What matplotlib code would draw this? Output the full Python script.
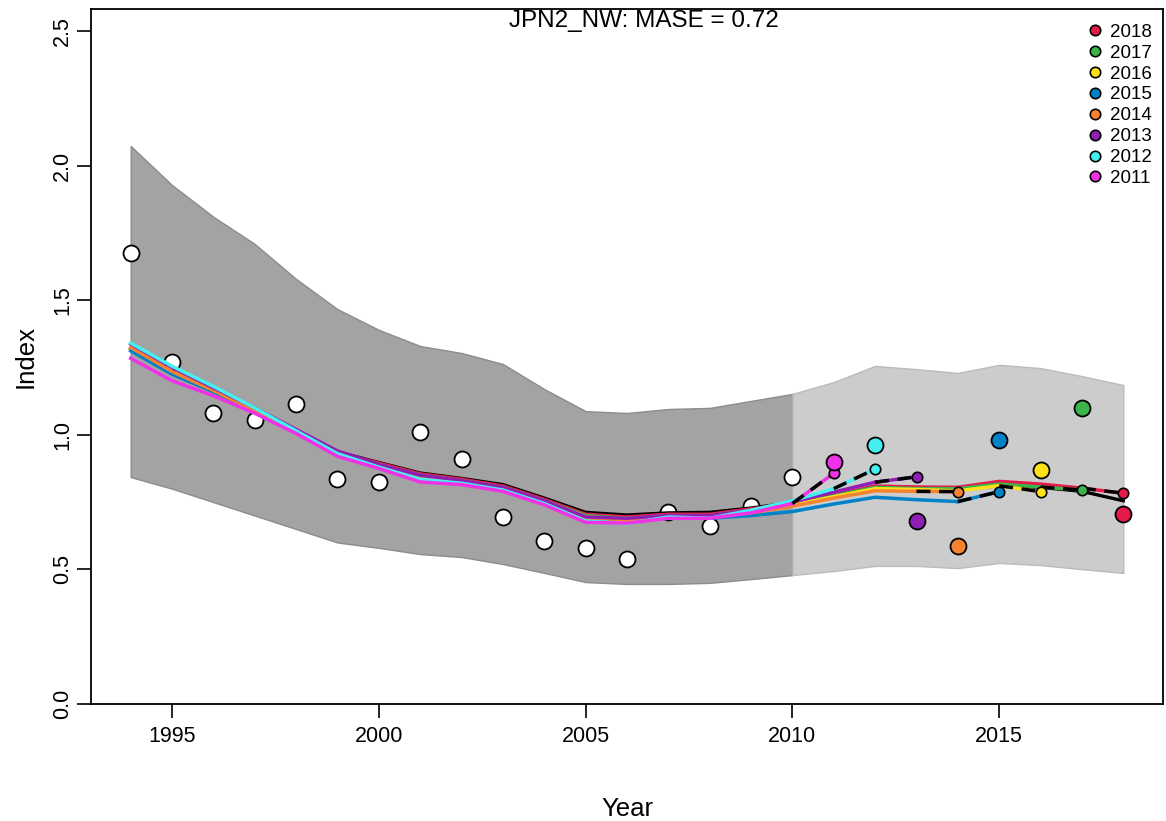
import numpy as np
import matplotlib.pyplot as plt

plt.rcParams['font.family'] = ['Liberation Sans', 'DejaVu Sans']

years = np.arange(1994, 2019)

# observed index
obs = [1.675, 1.27, 1.08, 1.055, 1.114, 0.836, 0.825, 1.01, 0.91, 0.695,
       0.605, 0.58, 0.54, 0.715, 0.661, 0.735, 0.843,
       0.899, 0.962, 0.68, 0.587, 0.98, 0.87, 1.10, 0.706]

# confidence band of reference run
upper = [2.073, 1.928, 1.81, 1.709, 1.579, 1.467, 1.39, 1.33, 1.304, 1.263,
         1.17, 1.088, 1.081, 1.096, 1.10, 1.126, 1.152, 1.196, 1.256, 1.244,
         1.23, 1.26, 1.248, 1.218, 1.185]
lower = [0.843, 0.80, 0.75, 0.70, 0.65, 0.60, 0.58, 0.557, 0.546, 0.52,
         0.487, 0.453, 0.446, 0.446, 0.45, 0.464, 0.479, 0.494, 0.513, 0.513,
         0.505, 0.524, 0.516, 0.501, 0.487]

# reference run fit
ref_fit = [1.32, 1.23, 1.16, 1.09, 1.01, 0.937, 0.897, 0.858, 0.838, 0.815,
           0.765, 0.712, 0.702, 0.71, 0.712, 0.728, 0.748, 0.775, 0.808, 0.804,
           0.80, 0.81, 0.805, 0.79, 0.755]

peel_years = [2018, 2017, 2016, 2015, 2014, 2013, 2012, 2011]
peel_cols = ['#E6194B', '#3CB44B', '#FFE119', '#0082C8',
             '#F58231', '#911EB4', '#46F0F0', '#F032E6']

# retrospective fits, 1994 up to the peel year (last value = one-step forecast)
peel_fit = {
    2018: [1.32, 1.23, 1.16, 1.09, 1.01, 0.935, 0.895, 0.855, 0.835, 0.81,
           0.76, 0.705, 0.695, 0.705, 0.705, 0.725, 0.745, 0.775, 0.81, 0.806,
           0.805, 0.827, 0.817, 0.802, 0.783],
    2017: [1.32, 1.232, 1.16, 1.09, 1.01, 0.933, 0.89, 0.85, 0.83, 0.805,
           0.755, 0.70, 0.69, 0.70, 0.70, 0.72, 0.743, 0.773, 0.805, 0.80,
           0.80, 0.817, 0.806, 0.795],
    2016: [1.318, 1.23, 1.16, 1.09, 1.01, 0.932, 0.888, 0.848, 0.828, 0.803,
           0.753, 0.695, 0.688, 0.698, 0.698, 0.715, 0.74, 0.77, 0.80, 0.797,
           0.792, 0.811, 0.789],
    2015: [1.312, 1.225, 1.16, 1.09, 1.01, 0.93, 0.885, 0.845, 0.825, 0.80,
           0.75, 0.69, 0.685, 0.69, 0.69, 0.70, 0.715, 0.743, 0.768, 0.759,
           0.752, 0.789],
    2014: [1.325, 1.235, 1.165, 1.09, 1.01, 0.93, 0.885, 0.845, 0.825, 0.80,
           0.75, 0.69, 0.685, 0.695, 0.695, 0.71, 0.735, 0.765, 0.792, 0.79,
           0.789],
    2013: [1.338, 1.25, 1.175, 1.10, 1.02, 0.94, 0.89, 0.85, 0.83, 0.805,
           0.755, 0.695, 0.69, 0.70, 0.70, 0.72, 0.75, 0.787, 0.824, 0.844],
    2012: [1.341, 1.255, 1.18, 1.10, 1.015, 0.93, 0.88, 0.835, 0.82, 0.795,
           0.745, 0.68, 0.67, 0.695, 0.69, 0.72, 0.755, 0.80, 0.873],
    2011: [1.284, 1.201, 1.145, 1.08, 1.005, 0.92, 0.875, 0.825, 0.815, 0.79,
           0.74, 0.675, 0.672, 0.69, 0.69, 0.71, 0.745, 0.857],
}

fig = plt.figure(figsize=(11.66, 8.21), dpi=100)
ax = fig.add_axes([91/1166, 1-704/821, (1163-91)/1166, (704-9)/821])

# band: fitted period dark, peeled period light
split = list(years).index(2010)
ax.fill_between(years[:split+1], lower[:split+1], upper[:split+1],
                facecolor='#A3A3A3', edgecolor='#8C8C8C', lw=1, zorder=1)
ax.fill_between(years[split:], lower[split:], upper[split:],
                facecolor='#CCCCCC', edgecolor='#BBBBBB', lw=1, zorder=1)

# observations in the fitted period sit under the lines
n_fit = split + 1
ax.plot(years[:n_fit], obs[:n_fit], 'o', ms=11.5, mfc='white', mec='black',
        mew=1.3, zorder=1.5, ls='none')

ax.plot(years, ref_fit, color='black', lw=2.4, zorder=2)

for yr, col in zip(peel_years, peel_cols):
    f = peel_fit[yr]
    yy = years[:len(f)]
    ax.plot(yy[:-1], f[:-1], color=col, lw=2.5, zorder=3)
    ax.plot(yy[-2:], f[-2:], color=col, lw=2.5, zorder=3)
    ax.plot(yy[-2:], f[-2:], color='black', lw=2.5, ls=(0, (4, 2.5)), zorder=4)
    ax.plot(yy[-1], f[-1], 'o', ms=7.5, mfc=col, mec='black', mew=1.2, zorder=5)

for yr, col in zip(peel_years, peel_cols):
    i = list(years).index(yr)
    ax.plot(years[i], obs[i], 'o', ms=11.5, mfc=col, mec='black', mew=1.3,
            zorder=6)

# legend
for yr, col in zip(peel_years, peel_cols):
    ax.plot([], [], 'o', ms=7.5, mfc=col, mec='black', mew=1.2, ls='none',
            label=str(yr))
ax.legend(loc='upper right', frameon=False, fontsize=13.5, handletextpad=0.15,
          labelspacing=0.2, borderaxespad=0.2, handlelength=1.3,
          bbox_to_anchor=(1.0, 0.995))

ax.set_xlim(1993.04, 2018.96)
ax.set_ylim(0, 2.582)
ax.set_xticks([1995, 2000, 2005, 2010, 2015])
ax.set_yticks([0.0, 0.5, 1.0, 1.5, 2.0, 2.5])
ax.set_yticklabels(['0.0', '0.5', '1.0', '1.5', '2.0', '2.5'], rotation=90,
                   va='center')
ax.tick_params(direction='out', length=10, width=1.2, labelsize=15.5,
               color='black')
ax.tick_params(axis='x', pad=6)
ax.tick_params(axis='y', pad=3)
for s in ax.spines.values():
    s.set_linewidth(1.3)

ax.set_xlabel('Year', fontsize=18.5, labelpad=36)
ax.set_ylabel('Index', fontsize=18.5, labelpad=10)
fig.text(644/1166, 1-21/821, 'JPN2_NW: MASE = 0.72', ha='center', va='center',
         fontsize=17.5)

fig.savefig('out.png', dpi=100)
